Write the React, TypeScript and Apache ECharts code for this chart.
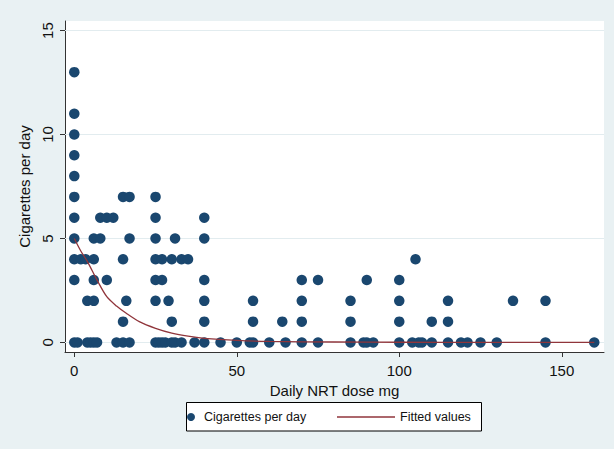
import React, { useEffect, useRef } from "react";
import * as echarts from "echarts";

const xTickValues = [0, 50, 100, 150];
const yTickValues = [0, 5, 10, 15];

// Scatter observations: daily NRT dose (mg) and cigarettes per day
const doseMg = [
  0, 0, 0, 0, 0,
  0, 15, 17, 25,
  0, 8, 10, 12, 25, 40,
  0, 6, 8, 17, 25, 31, 40,
  0, 2, 3.5, 6, 15, 25, 27, 30, 33, 35, 105,
  0, 6, 10, 25, 27, 40, 70, 75, 90, 100,
  4, 6, 16, 25, 29, 40, 55, 70, 85, 100, 115, 135, 145,
  15, 30, 40, 55, 64, 70, 85, 100, 110, 115,
  0, 1, 4, 5, 6, 7, 13, 15, 17, 25, 26, 27, 28, 30, 31, 33, 37, 40, 45, 50, 54, 55, 60, 65, 70, 75, 85, 89, 90, 92, 100, 104, 106, 107, 110, 115, 119, 121, 125, 130, 145, 160,
];
const cigarettesPerDay = [
  13, 11, 10, 9, 8,
  7, 7, 7, 7,
  6, 6, 6, 6, 6, 6,
  5, 5, 5, 5, 5, 5, 5,
  4, 4, 4, 4, 4, 4, 4, 4, 4, 4, 4,
  3, 3, 3, 3, 3, 3, 3, 3, 3, 3,
  2, 2, 2, 2, 2, 2, 2, 2, 2, 2, 2, 2, 2,
  1, 1, 1, 1, 1, 1, 1, 1, 1, 1,
  0, 0, 0, 0, 0, 0, 0, 0, 0, 0, 0, 0, 0, 0, 0, 0, 0, 0, 0, 0, 0, 0, 0, 0, 0, 0, 0, 0, 0, 0, 0, 0, 0, 0, 0, 0, 0, 0, 0, 0, 0, 0,
];

// Fitted values curve
const fitDose = [0, 2, 4, 7, 10, 13, 16, 20, 25, 30, 35, 40, 50, 60, 80, 100, 130, 160];
const fitValues = [5.0, 4.4, 3.9, 3.0, 2.2, 1.75, 1.4, 1.0, 0.68, 0.45, 0.3, 0.2, 0.1, 0.05, 0.02, 0.01, 0.0, 0.0];

const FONT = "'Liberation Sans', Arial, sans-serif";

export default function App() {
  const ref = useRef<HTMLDivElement>(null);

  useEffect(() => {
    document.body.style.margin = "0";
    if (!ref.current) return;
    const chart = echarts.init(ref.current, undefined, { renderer: "svg" });
    const option: any = {
      animation: false,
      backgroundColor: "#e9f1f3",
      textStyle: { fontFamily: FONT },
      grid: {
        left: 65,
        top: 21,
        right: 10,
        bottom: 97,
        show: true,
        backgroundColor: "#ffffff",
        borderWidth: 0,
      },
      xAxis: {
        type: "value",
        min: -2.86,
        max: 163,
        name: "Daily NRT dose mg",
        nameLocation: "middle",
        nameGap: 26,
        nameTextStyle: { fontSize: 15, color: "#111", fontFamily: FONT },
        axisLine: { show: true, onZero: false, lineStyle: { color: "#333", width: 1 } },
        axisTick: { show: true, length: 5, customValues: xTickValues, lineStyle: { color: "#333" } },
        axisLabel: { customValues: xTickValues, fontSize: 15, color: "#111", margin: 11, fontFamily: FONT },
        splitLine: { show: false },
      },
      yAxis: {
        type: "value",
        min: -0.46,
        max: 15.46,
        name: "Cigarettes per day",
        nameLocation: "middle",
        nameGap: 28,
        nameRotate: 90,
        nameTextStyle: { fontSize: 15, color: "#111", fontFamily: FONT },
        axisLine: { show: true, onZero: false, lineStyle: { color: "#333", width: 1 } },
        axisTick: { show: true, length: 5, customValues: yTickValues, lineStyle: { color: "#333" } },
        axisLabel: { customValues: yTickValues, rotate: 90, fontSize: 15, color: "#111", margin: 10.5, fontFamily: FONT },
        splitLine: { show: false },
      },
      legend: [
        {
          data: ["Cigarettes per day"],
          left: 187,
          top: 410,
          padding: 0,
          itemWidth: 16,
          itemHeight: 8,
          icon: "circle",
          selectedMode: false,
          textStyle: { fontSize: 12.5, color: "#111", lineHeight: 14, fontFamily: FONT },
        },
        {
          data: [{ name: "Fitted values", icon: "rect" }],
          left: 337,
          top: 410,
          padding: 0,
          itemWidth: 58,
          itemHeight: 1.3,
          selectedMode: false,
          itemStyle: { color: "#90353b" },
          textStyle: { fontSize: 12.5, color: "#111", lineHeight: 14, fontFamily: FONT },
        },
      ],
      graphic: [
        {
          type: "rect",
          z: 1,
          shape: { x: 186.5, y: 402.5, width: 295, height: 28.5 },
          style: { fill: "#ffffff", stroke: "#000000", lineWidth: 1 },
        },
      ],
      series: [
        {
          type: "line",
          name: "grid",
          data: [],
          silent: true,
          z: 1,
          markLine: {
            silent: true,
            z: 1,
            symbol: "none",
            label: { show: false },
            lineStyle: { color: "#e2ecef", width: 1, type: "solid" },
            data: yTickValues.map((v) => ({ yAxis: v })),
          },
        },
        {
          type: "scatter",
          name: "Cigarettes per day",
          data: doseMg.map((d, i) => [d, cigarettesPerDay[i]]),
          symbolSize: 10.5,
          itemStyle: { color: "#1a476f", opacity: 1 },
          z: 3,
        },
        {
          type: "line",
          name: "Fitted values",
          data: fitDose.map((d, i) => [d, fitValues[i]]),
          symbol: "none",
          showSymbol: false,
          smooth: 0.3,
          lineStyle: { color: "#90353b", width: 1.3 },
          itemStyle: { color: "#90353b" },
          z: 4,
        },
      ],
    };
    chart.setOption(option);
    return () => chart.dispose();
  }, []);

  return (
    <div
      ref={ref}
      style={{ position: "fixed", left: 0, top: 0, width: 614, height: 449 }}
    />
  );
}
